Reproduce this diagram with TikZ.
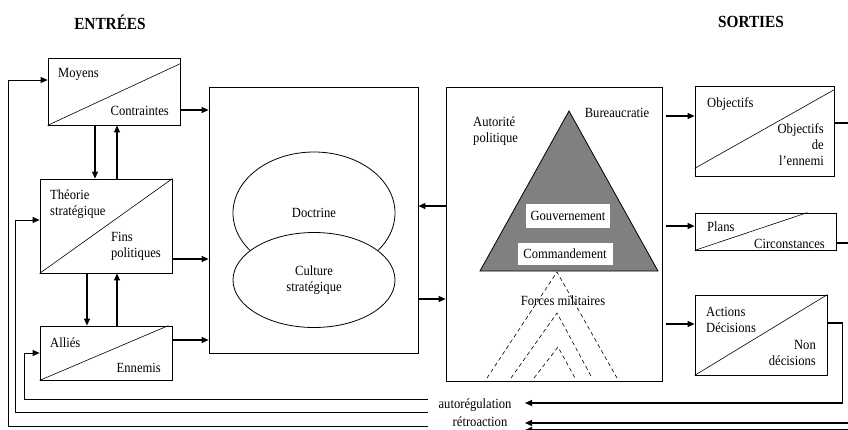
\documentclass[tikz,border=0pt]{standalone}
\usepackage{fontspec}
\setmainfont{Liberation Serif}[FakeStretch=0.9]
\usetikzlibrary{arrows.meta,calc,shapes.geometric}
\definecolor{PyramidGray}{HTML}{808080}

\tikzset{
  cadre/.style={draw, line width=0.8pt, inner sep=0pt},
  texte/.style={inner sep=1pt},
  fleche/.style={line width=1.1pt, -{Triangle[length=7pt,width=6pt]}},
  titre/.style={inner sep=1pt, font=\fontsize{17}{20}\selectfont\bfseries},
}

\begin{document}
\begin{tikzpicture}[x=1pt,y=-1pt,font=\fontsize{14}{16}\selectfont]
    \useasboundingbox (0,0) rectangle (848,429);
    % boites d'entree et de sortie
    \foreach \name/\cx/\cy/\w/\h in {moyens/114/91.5/132/67, theorie/106/226/132/94,
      allies/106/353/132/54, objectifs/764.5/131/139/90, plans/765.5/231.5/141/37,
      actions/761/335/132/80} {
     \node[cadre, minimum width=\w, minimum height=\h] (\name) at (\cx,\cy) {};
    }
    \draw[line width=0.6pt] (moyens.south west) -- ([yshift=-6pt]moyens.north east);
    \draw[line width=0.6pt] (theorie.south west) -- (theorie.north east);
    \draw[line width=0.6pt] (allies.south west) -- ([xshift=-4pt]allies.north east);
    \draw[line width=0.6pt] ([yshift=8pt]objectifs.south west) -- ([yshift=-4pt]objectifs.north east);
    \draw[line width=0.6pt] (plans.south west) -- ([xshift=-29pt]plans.north east);
    \draw[line width=0.6pt] (actions.south west) -- (actions.north east);

    % les deux grands cadres
    \node[cadre, minimum width=209, minimum height=266] (culture) at (313.5,220) {};
    \node[cadre, minimum width=216, minimum height=294] (appareil) at (554,234) {};

    \node[ellipse, draw, line width=0.8pt, minimum width=162, minimum height=122] (doctrine) at (314,213) {Doctrine};
    \node[ellipse, draw, fill=white, line width=0.8pt, minimum width=162, minimum height=95, align=center] (strat) at (314,280) {Culture\\stratégique};

    % pyramide
    \coordinate (sommet) at (569,111);
    \coordinate (baseG) at (480,271);
    \coordinate (baseD) at (658,271);
    \filldraw[fill=PyramidGray, line width=0.8pt] (sommet) -- (baseG) -- (baseD) -- cycle;
    \node[fill=white, minimum width=84, minimum height=24, inner sep=1pt] (gouv) at (568,216) {Gouvernement};
    \node[fill=white, minimum width=95, minimum height=22, inner sep=1pt] (comm) at (565,254) {Commandement};
    \foreach \xa/\xs/\ys/\xb in {487/557/272/617, 511/557/313/592, 534/558/347/575} {
     \draw[dash pattern=on 4pt off 3pt, line width=0.6pt] (\xa,378) -- (\xs,\ys) -- (\xb,378);
    }
    \node[texte, align=left, anchor=west] (autorite) at (472,131) {Autorité\\politique};
    \node[texte] (bureau) at (617,113) {Bureaucratie};
    \node[texte] (forces) at (563,301) {Forces militaires};

    % textes des boites
    \node[texte, anchor=west] (tmoyens) at (57,74) {Moyens};
    \node[texte, anchor=east] (tcontr) at (170,111) {Contraintes};
    \node[texte, anchor=west, align=left] (ttheorie) at (49,204) {Théorie\\stratégique};
    \node[texte, anchor=east, align=left] (tfins) at (162,246) {Fins\\politiques};
    \node[texte, anchor=west] (tallies) at (49,343) {Alliés};
    \node[texte, anchor=east] (tennemis) at (162,368) {Ennemis};
    \node[texte, anchor=west] (tobj) at (706,104) {Objectifs};
    \node[texte, anchor=east, align=right] (tobjen) at (825,145) {Objectifs\\de\\l’ennemi};
    \node[texte, anchor=west] (tplans) at (706,227) {Plans};
    \node[texte, anchor=east] (tcirc) at (826,244) {Circonstances};
    \node[texte, anchor=west, align=left] (tactions) at (705,319.5) {Actions\\Décisions};
    \node[texte, anchor=east, align=right] (tnon) at (817,353) {Non\\décisions};

    \node[titre] (entrees) at (110,22) {ENTRÉES};
    \node[titre] (sorties) at (751,22) {SORTIES};

    % fleches
    \draw[fleche] ([xshift=-19pt]moyens.south) -- ([xshift=-19pt]moyens.south |- theorie.north);
    \draw[fleche] ([xshift=11pt]theorie.north) -- ([xshift=11pt]theorie.north |- moyens.south);
    \draw[fleche] ([xshift=-19pt]theorie.south) -- ([xshift=-19pt]theorie.south |- allies.north);
    \draw[fleche] ([xshift=11pt]allies.north) -- ([xshift=11pt]allies.north |- theorie.south);

    \draw[fleche] ([yshift=-18.5pt]moyens.east) -- ([yshift=-18.5pt]moyens.east -| culture.west);
    \draw[fleche] ([yshift=-33pt]theorie.east) -- ([yshift=-33pt]theorie.east -| culture.west);
    \draw[fleche] ([yshift=13pt]allies.east) -- ([yshift=13pt]allies.east -| culture.west);
    \draw[fleche] ([yshift=28pt]appareil.west) -- ([yshift=28pt]appareil.west -| culture.east);
    \draw[fleche] ([yshift=-79pt]culture.east) -- ([yshift=-79pt]culture.east -| appareil.west);

    \draw[fleche] ([xshift=4pt,yshift=15pt]objectifs.west -| appareil.east) -- ([yshift=15pt]objectifs.west);
    \draw[fleche] ([xshift=4pt,yshift=5.5pt]plans.west -| appareil.east) -- ([yshift=5.5pt]plans.west);
    \draw[fleche] ([xshift=4pt,yshift=11pt]actions.west -| appareil.east) -- ([yshift=11pt]actions.west);

    % boucles de retour
    \node[texte] (autoreg) at (475,405) {autorégulation};
    \node[texte] (retro) at (480,422) {rétroaction};
    \coordinate (ta) at (525,403);
    \coordinate (tb) at (525,423);
    \coordinate (tc) at (525,430);
    \coordinate (ga) at (428,399);
    \coordinate (gb) at (428,412);
    \coordinate (gc) at (428,426);
    \draw[fleche] ([yshift=12pt]actions.east) -- ++(15,0) |- (ta);
    \draw[fleche] ([yshift=-11.5pt]plans.east) -- ++(20,0) |- (tb);
    \draw[fleche] ([yshift=8pt]objectifs.east) -- ++(25,0) |- (tc);
    \draw[fleche, line width=0.8pt] (ga) -| ([xshift=-15pt]allies.west) -- (allies.west);
    \draw[fleche, line width=0.8pt] (gb) -| ([xshift=-24pt,yshift=6pt]theorie.west) -- ([yshift=6pt]theorie.west);
    \draw[fleche, line width=0.8pt] (gc) -| ([xshift=-39pt,yshift=11.5pt]moyens.west) -- ([yshift=11.5pt]moyens.west);
\end{tikzpicture}
\end{document}
